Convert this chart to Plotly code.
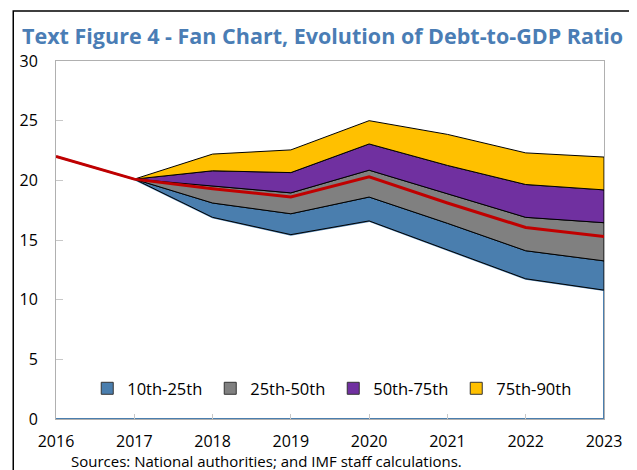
import plotly.graph_objects as go

years = [2016, 2017, 2018, 2019, 2020, 2021, 2022, 2023]
baseline = [22.0, 20.1, 19.3, 18.6, 20.3, 18.1, 16.05, 15.3]
band_years = [2017, 2018, 2019, 2020, 2021, 2022, 2023]
p10 = [20.1, 16.9, 15.45, 16.6, 14.2, 11.75, 10.8]
p25 = [20.1, 18.1, 17.2, 18.6, 16.4, 14.1, 13.25]
p50 = [20.1, 19.5, 18.95, 20.85, 18.85, 16.9, 16.45]
p75 = [20.1, 20.8, 20.65, 23.05, 21.25, 19.65, 19.2]
p90 = [20.1, 22.2, 22.55, 25.0, 23.85, 22.3, 21.95]
band_names = ["10th-25th", "25th-50th", "50th-75th", "75th-90th"]
band_colors = ["#4A7EAE", "#808080", "#7030A0", "#FFC000"]
title = "Text Figure 4 - Fan Chart, Evolution of Debt-to-GDP Ratio"
source = "Sources: National authorities; and IMF staff calculations."

fig = go.Figure()

# base area (below 10th percentile), white with blue outline
base_x = [years[0]] + band_years + [band_years[-1], years[0]]
base_y = [baseline[0]] + p10 + [0, 0]
fig.add_trace(go.Scatter(x=base_x, y=base_y, fill="toself", fillcolor="white",
                         mode="lines", line=dict(color="#4A7EAE", width=2),
                         showlegend=False, hoverinfo="skip"))

bounds = [p10, p25, p50, p75, p90]
for i, name in enumerate(band_names):
    lo, hi = bounds[i], bounds[i + 1]
    fig.add_trace(go.Scatter(
        x=band_years + band_years[::-1], y=hi + lo[::-1], fill="toself",
        fillcolor=band_colors[i], mode="lines",
        line=dict(color="black", width=1), showlegend=False, name=name))

for i, name in enumerate(band_names):
    fig.add_trace(go.Bar(x=[None], y=[None], name=name,
                         marker=dict(color=band_colors[i],
                                     line=dict(color="#333333", width=1))))

fig.add_trace(go.Scatter(x=years, y=baseline, mode="lines",
                         line=dict(color="#C00000", width=3), showlegend=False))

fig.update_layout(
    width=637, height=470,
    margin=dict(l=46, r=41, t=53, b=59),
    paper_bgcolor="white", plot_bgcolor="white",
    font=dict(family="Open Sans", color="black"),
    title=dict(text="<b>" + title + "</b>", x=0, xref="paper", xanchor="left",
               y=1.0, yref="container", yanchor="top", pad=dict(t=21, l=-34),
               font=dict(size=21.5, color="#4A7DB5", family="Open Sans")),
    showlegend=True,
    legend=dict(orientation="h", x=0.057, y=0.085, xanchor="left", yanchor="middle",
                bgcolor="rgba(0,0,0,0)", font=dict(size=16.5),
                entrywidth=78, itemwidth=30, traceorder="normal"),
    xaxis=dict(range=[2016, 2023], tickmode="array", tickvals=years,
               ticktext=[str(y) for y in years], showgrid=False,
               ticks="inside", ticklen=5, tickcolor="#C8C8C8",
               showline=True, linecolor="#B0B0B0", mirror=True,
               zeroline=False, tickfont=dict(size=16), ticklabelstandoff=8),
    yaxis=dict(range=[0, 30], dtick=5, showgrid=False, ticks="inside",
               ticklen=7, tickcolor="#C8C8C8", showline=True, linecolor="#B0B0B0",
               mirror=True, zeroline=False, tickfont=dict(size=16),
               ticklabelstandoff=14),
    shapes=[dict(type="rect", xref="paper", yref="paper", x0=-0.078, x1=1.3,
                 y0=-0.4, y1=1.1397, line=dict(color="black", width=1.5),
                 fillcolor="rgba(0,0,0,0)", layer="below")],
    annotations=[dict(text=source, xref="paper", yref="paper", x=0.024, y=-0.117,
                      xanchor="left", yanchor="middle", showarrow=False,
                      font=dict(size=15, family="Open Sans"))],
)

fig.write_html("out.html")
